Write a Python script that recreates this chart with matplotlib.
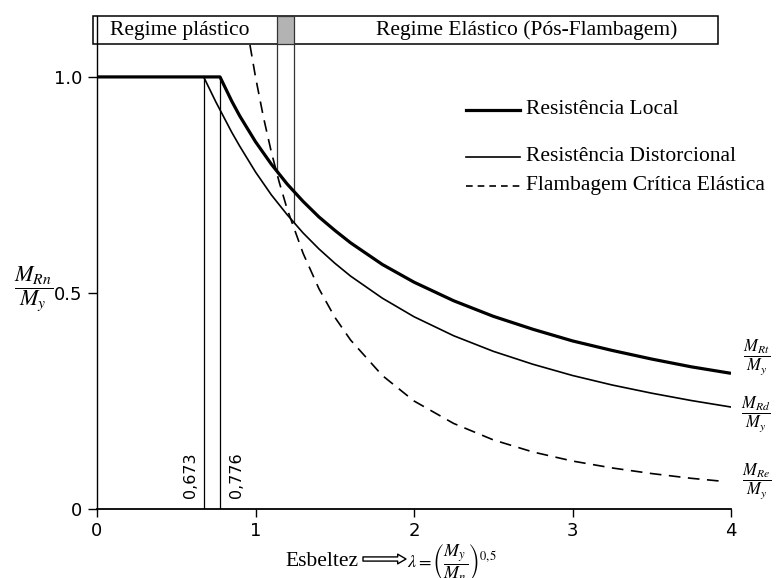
import numpy as np
import matplotlib
matplotlib.use("Agg")
import matplotlib.pyplot as plt
from matplotlib.patches import Rectangle

plt.rcParams['mathtext.fontset'] = 'stix'

# ---- data ----
lam_local = [0.0, 0.776, 0.85, 0.9, 1.0, 1.1, 1.2, 1.3, 1.4, 1.5, 1.6, 1.8, 2.0,
             2.25, 2.5, 2.75, 3.0, 3.25, 3.5, 3.75, 4.0]
m_local = [1.0, 1.0, 0.944, 0.910, 0.850, 0.798, 0.752, 0.712, 0.676, 0.645, 0.616,
           0.566, 0.525, 0.482, 0.446, 0.416, 0.389, 0.367, 0.347, 0.329, 0.314]

lam_dist = [0.0, 0.673, 0.75, 0.85, 0.9, 1.0, 1.1, 1.2, 1.3, 1.4, 1.5, 1.6, 1.8, 2.0,
            2.25, 2.5, 2.75, 3.0, 3.25, 3.5, 3.75, 4.0]
m_dist = [1.0, 1.0, 0.942, 0.872, 0.840, 0.780, 0.727, 0.681, 0.639, 0.602, 0.569,
          0.539, 0.488, 0.445, 0.401, 0.365, 0.335, 0.309, 0.287, 0.268, 0.251, 0.236]

lam_elast = [0.965, 1.0, 1.05, 1.1, 1.15, 1.2, 1.3, 1.4, 1.5, 1.6, 1.8, 2.0, 2.25, 2.5,
             2.75, 3.0, 3.25, 3.5, 3.75, 3.95]
m_elast = [1.074, 1.0, 0.907, 0.826, 0.756, 0.694, 0.592, 0.510, 0.444, 0.391, 0.309,
           0.250, 0.198, 0.160, 0.132, 0.111, 0.095, 0.082, 0.071, 0.064]

lam_limits = [0.673, 0.776]           # vertical limits
lam_limit_labels = ["0,673", "0,776"]
trans_lam = [1.136, 1.243]             # transition band (grey)
trans_top = [0.781, 0.662]

xticks = [0, 1, 2, 3, 4]
yticks = [0, 0.5, 1.0]
ytick_labels = ["0", "0.5", "1.0"]

legend_labels = ["Resistência Local", "Resistência Distorcional",
                 "Flambagem Crítica Elástica"]
regime_labels = ["Regime plástico", "Regime Elástico (Pós-Flambagem)"]
curve_end_labels = [r'$\dfrac{M_{Rt}}{M_y}$', r'$\dfrac{M_{Rd}}{M_y}$',
                    r'$\dfrac{M_{Re}}{M_y}$']

SERIF = ['Liberation Serif', 'DejaVu Serif']

fig = plt.figure(figsize=(7.81, 5.78), dpi=100)
ax = fig.add_axes([97/781, (578-509)/578, (731-97)/781, (509-16)/578])
ax.set_xlim(0, 4)
ax.set_ylim(0, 1.141)

ax.plot(lam_local, m_local, color='black', lw=2.3, solid_capstyle='butt', zorder=4)
ax.plot(lam_dist, m_dist, color='black', lw=1.2, zorder=3)
ax.plot(lam_elast, m_elast, color='black', lw=1.2, ls=(0, (7, 4.5)), zorder=3)

for xl in lam_limits:
    ax.plot([xl, xl], [0, 1.0], color='black', lw=0.9, zorder=2)
ax.text(0.590, 0.025, lam_limit_labels[0], rotation=90, ha='center', va='bottom',
        fontsize=11.5, family='DejaVu Sans')
ax.text(0.882, 0.025, lam_limit_labels[1], rotation=90, ha='center', va='bottom',
        fontsize=11.5, family='DejaVu Sans')

for xl, yt in zip(trans_lam, trans_top):
    ax.plot([xl, xl], [yt, 1.076], color='#333333', lw=0.9, zorder=2)

# regime box
box_y0, box_y1 = 1.076, 1.141
ax.add_patch(Rectangle((-0.025, box_y0), 3.945, box_y1 - box_y0, fill=False,
                       ec='black', lw=1.1, clip_on=False, zorder=5))
ax.add_patch(Rectangle((trans_lam[0], box_y0), trans_lam[1] - trans_lam[0],
                       box_y1 - box_y0, fc='#b3b3b3', ec='#333333', lw=0.9,
                       clip_on=False, zorder=5))
ax.text(0.52, 1.108, regime_labels[0], ha='center', va='center', fontsize=15.5,
        family=SERIF)
ax.text(2.71, 1.108, regime_labels[1], ha='center', va='center', fontsize=15.5,
        family=SERIF)

# manual legend
leg_x0, leg_x1 = 2.328, 2.669
leg_y = [0.924, 0.815, 0.748]
leg_styles = [dict(lw=2.3), dict(lw=1.2), dict(lw=1.2, ls=(0, (4, 3)))]
for yy, st, lab in zip(leg_y, leg_styles, legend_labels):
    ax.plot([leg_x0, leg_x1], [yy, yy], color='black', **st)
    ax.text(2.705, yy, lab, ha='left', va='center', fontsize=15.5, family=SERIF)

# right-hand curve labels
for yy, lab in zip([0.352, 0.220, 0.065], curve_end_labels):
    ax.text(4.16, yy, lab, ha='center', va='center', fontsize=12, clip_on=False)

# y label
ax.text(-0.40, 0.509, r'$\dfrac{M_{Rn}}{M_y}$', ha='center', va='center', fontsize=16,
        clip_on=False)

# axes styling
for s in ['top', 'right']:
    ax.spines[s].set_visible(False)
ax.spines['left'].set_linewidth(1.0)
ax.spines['bottom'].set_linewidth(1.3)
ax.set_xticks(xticks)
ax.set_xticklabels([str(t) for t in xticks])
ax.set_yticks(yticks)
ax.set_yticklabels(ytick_labels)
ax.tick_params(axis='x', direction='out', length=5.5, width=1.0, pad=4, labelsize=13)
ax.tick_params(axis='y', direction='out', length=6.5, width=1.0, pad=4, labelsize=13)
for lbl in ax.get_xticklabels() + ax.get_yticklabels():
    lbl.set_family('DejaVu Sans')

# x label
fig.text(285/781, 1 - 561/578, "Esbeltez", ha='left', va='center', fontsize=15.5,
         family=SERIF)
ax.annotate("", xy=(406/781, 1 - 559/578), xytext=(363/781, 1 - 559/578),
            xycoords='figure fraction', textcoords='figure fraction',
            arrowprops=dict(arrowstyle='simple,head_width=0.7,head_length=0.6,tail_width=0.3',
                            fc='white', ec='black', lw=1.0, shrinkA=0, shrinkB=0))
fig.text(407/781, 1 - 563/578, r'$\lambda = \left(\dfrac{M_y}{M_n}\right)^{0{,}5}$',
         ha='left', va='center', fontsize=13)

fig.savefig("out.png", dpi=100)
